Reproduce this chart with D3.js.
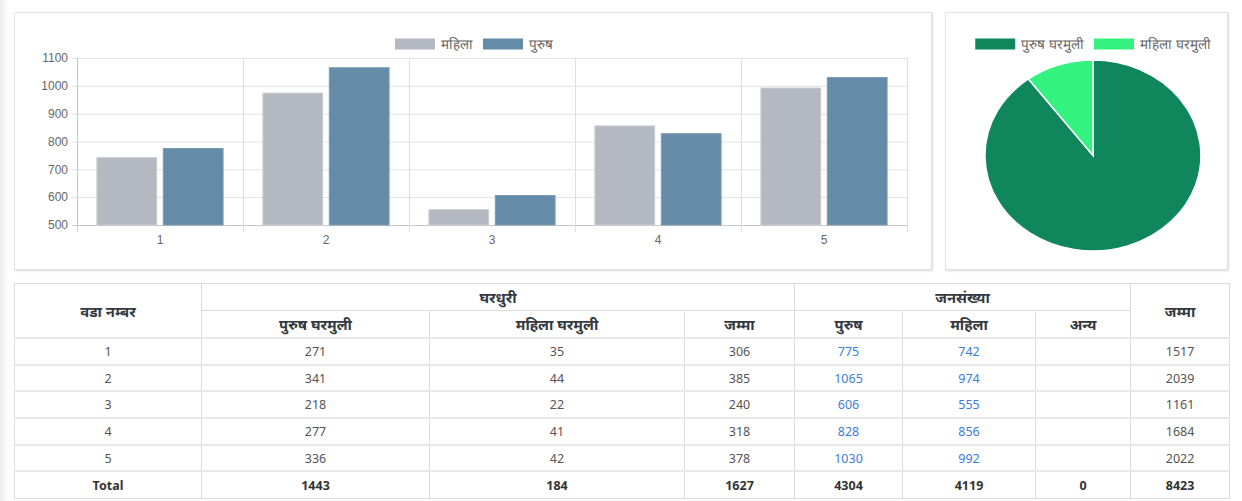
<!DOCTYPE html>
<html>
<head>
<meta charset="utf-8">
<script src="https://cdn.jsdelivr.net/npm/d3@7"></script>
<style>
  body { margin: 0; width: 1242px; height: 501px; background: #fff; position: relative; overflow: hidden;
         font-family: "Noto Sans", "Liberation Sans", sans-serif; }
  .strip { position: absolute; left: 0; top: 0; width: 7px; height: 501px;
           background: linear-gradient(to right, #ececec, #fafafa); }
  .card { position: absolute; background: #fff; border: 1px solid #e2e2e2;
          box-shadow: 1px 1px 2px rgba(0,0,0,0.15); box-sizing: border-box; }
  svg.main { position: absolute; left: 0; top: 0; }
  table { position: absolute; left: 14px; top: 283px; width: 1215px; border-collapse: collapse;
          table-layout: fixed; font-size: 12.5px; color: #555; }
  td, th { border: 1px solid #dcdcdc; text-align: center; padding: 0; }
  th { font-weight: bold; color: #343a40; font-size: 14.8px; height: 26px; line-height: 18px; }
  tbody tr { height: 26.7px; }
  tbody tr td { border-top: 2px solid #e8e8e8; }
  .link { color: #3b7ddd; }
  tr.total td { font-weight: bold; color: #333; }
</style>
</head>
<body>
<div class="strip"></div>
<div class="card" style="left:14px;top:12px;width:918px;height:258px"></div>
<div class="card" style="left:945px;top:12px;width:283px;height:258px"></div>
<svg class="main" width="1242" height="280"></svg>
<table id="tbl"></table>
<script>
// Data
////////////////////////////////////////////////////////////////////
const wards = ["1", "2", "3", "4", "5"];
const mahila = [742, 974, 555, 856, 992];
const purush = [775, 1065, 606, 828, 1030];
const anya = ["", "", "", "", ""];
const purushGharmuli = [271, 341, 218, 277, 336];
const mahilaGharmuli = [35, 44, 22, 41, 42];
const yTicks = [500, 600, 700, 800, 900, 1000, 1100];

const barSeries = [
  { name: "महिला", values: mahila, color: "#b4b8c1", border: "#c9ccd2" },
  { name: "पुरुष", values: purush, color: "#648ba8", border: "#7a9cb5" },
];
const pieLabels = ["पुरुष घरमुली", "महिला घरमुली"];
const pieColors = ["#10865d", "#33f27e"];
// slice shares (percent)
const pieShares = [89.8, 10.2];

const svg = d3.select("svg.main");
const chartFont = "'Liberation Sans', Arial, sans-serif";

// Bar chart
////////////////////////////////////////////////////////////////////
const plot = { left: 77, right: 907, top: 58, bottom: 225 };

const xScale = d3.scaleBand().domain(wards).range([plot.left, plot.right]);
const bw = xScale.bandwidth();
const xInner = d3.scaleBand()
  .domain(barSeries.map((s) => s.name))
  .range([bw * 0.1, bw * 0.9])
  .paddingInner(0.1)
  .paddingOuter(0.05);
const yScale = d3.scaleLinear().domain([500, 1100]).range([plot.bottom, plot.top]);

const barG = svg.append("g");

// horizontal grid
barG.append("g")
  .selectAll("line")
  .data(yTicks)
  .join("line")
  .attr("x1", plot.left - 5)
  .attr("x2", plot.right)
  .attr("y1", (d) => yScale(d) + 0.5)
  .attr("y2", (d) => yScale(d) + 0.5)
  .attr("stroke", (d) => (d === 500 ? "#c8c8c8" : "#e3e3e3"));

// vertical grid at category boundaries
const bounds = wards.map((w) => xScale(w)).concat([plot.right]);
barG.append("g")
  .selectAll("line")
  .data(bounds)
  .join("line")
  .attr("x1", (d) => Math.round(d) + 0.5)
  .attr("x2", (d) => Math.round(d) + 0.5)
  .attr("y1", plot.top)
  .attr("y2", plot.bottom + 7)
  .attr("stroke", (d, i) => (i === 0 ? "#c8c8c8" : "#dedede"));

// y labels
barG.append("g")
  .selectAll("text")
  .data(yTicks)
  .join("text")
  .attr("x", plot.left - 9)
  .attr("y", (d) => yScale(d))
  .attr("dy", "0.35em")
  .attr("text-anchor", "end")
  .attr("fill", "#666")
  .style("font", `12px ${chartFont}`)
  .text((d) => d);

// x labels
barG.append("g")
  .selectAll("text")
  .data(wards)
  .join("text")
  .attr("x", (d) => xScale(d) + bw / 2)
  .attr("y", plot.bottom + 19)
  .attr("text-anchor", "middle")
  .attr("fill", "#666")
  .style("font", `12px ${chartFont}`)
  .text((d) => d);

// bars
barSeries.forEach((s) => {
  barG.append("g")
    .selectAll("rect")
    .data(s.values)
    .join("rect")
    .attr("x", (d, i) => xScale(wards[i]) + xInner(s.name))
    .attr("width", xInner.bandwidth())
    .attr("y", (d) => yScale(d))
    .attr("height", (d) => yScale(500) - yScale(d))
    .attr("fill", s.color)
    .attr("stroke", s.border)
    .attr("stroke-width", 1);
});

// legend helper (centered, Chart.js style)
function legend(items, colors, cx, y) {
  const g = svg.append("g");
  const entries = g.selectAll("g").data(items).join("g");
  entries.append("rect")
    .attr("width", 40).attr("height", 11)
    .attr("y", y - 5.5)
    .attr("fill", (d, i) => colors[i]);
  entries.append("text")
    .attr("x", 46)
    .attr("y", y)
    .attr("dy", "0.35em")
    .attr("fill", "#666")
    .style("font", `13.5px ${chartFont}`)
    .text((d) => d);
  let widths = [];
  entries.each(function () {
    widths.push(46 + d3.select(this).select("text").node().getComputedTextLength());
  });
  const total = d3.sum(widths) + 10 * (widths.length - 1);
  let x = cx - total / 2;
  entries.attr("transform", (d, i) => {
    const t = `translate(${x},0)`;
    x += widths[i] + 10;
    return t;
  });
}

legend(barSeries.map((s) => s.name), barSeries.map((s) => s.color), 474, 44);

// Pie chart
////////////////////////////////////////////////////////////////////
const pie = d3.pie().sort(null)(pieShares);
const arc = d3.arc().innerRadius(0).outerRadius(1);
svg.append("g")
  .attr("transform", "translate(1093,155.5) scale(108,95.5)")
  .selectAll("path")
  .data(pie)
  .join("path")
  .attr("d", arc)
  .attr("fill", (d, i) => pieColors[i])
  .attr("stroke", "#fff")
  .attr("stroke-width", 1.5)
  .attr("vector-effect", "non-scaling-stroke");

legend(pieLabels, pieColors, 1093, 44);

// Table
////////////////////////////////////////////////////////////////////
const table = d3.select("#tbl");
const colWidths = [187, 228, 255, 110, 108, 133, 95, 99];
table.append("colgroup").selectAll("col").data(colWidths).join("col")
  .style("width", (d) => d + "px");

const thead = table.append("thead");
const h1 = thead.append("tr");
h1.append("th").attr("rowspan", 2).text("वडा नम्बर");
h1.append("th").attr("colspan", 3).text("घरधुरी");
h1.append("th").attr("colspan", 3).text("जनसंख्या");
h1.append("th").attr("rowspan", 2).text("जम्मा");
thead.append("tr").selectAll("th")
  .data(["पुरुष घरमुली", "महिला घरमुली", "जम्मा", "पुरुष", "महिला", "अन्य"])
  .join("th").text((d) => d);

const rows = wards.map((w, i) => [
  { v: w },
  { v: purushGharmuli[i] },
  { v: mahilaGharmuli[i] },
  { v: purushGharmuli[i] + mahilaGharmuli[i] },
  { v: purush[i], link: true },
  { v: mahila[i], link: true },
  { v: anya[i] },
  { v: purush[i] + mahila[i] },
]);
const totalRow = [
  "Total",
  d3.sum(purushGharmuli),
  d3.sum(mahilaGharmuli),
  d3.sum(purushGharmuli) + d3.sum(mahilaGharmuli),
  d3.sum(purush),
  d3.sum(mahila),
  0,
  d3.sum(purush) + d3.sum(mahila),
].map((v) => ({ v }));

const tbody = table.append("tbody");
tbody.selectAll("tr")
  .data(rows.concat([totalRow]))
  .join("tr")
  .classed("total", (d, i) => i === rows.length)
  .selectAll("td")
  .data((d) => d)
  .join("td")
  .classed("link", (d) => !!d.link)
  .text((d) => d.v);
</script>
</body>
</html>
